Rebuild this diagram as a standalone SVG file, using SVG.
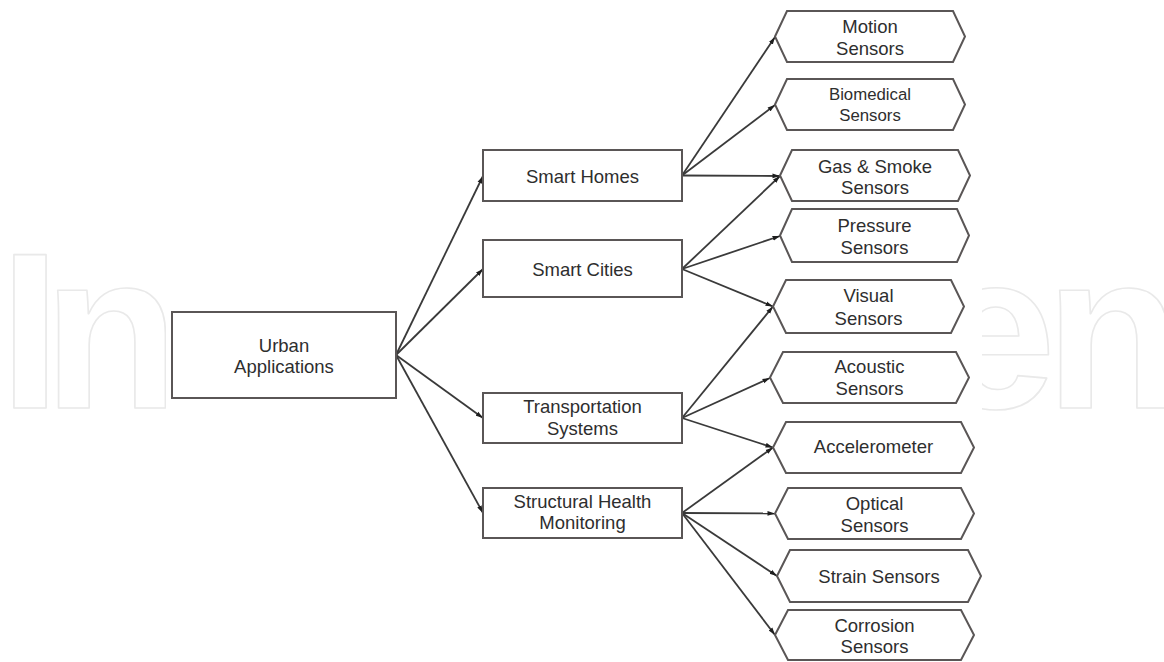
<svg xmlns="http://www.w3.org/2000/svg" width="1164" height="662" viewBox="0 0 1164 662">
  <style>
    .wm { font-family: "Liberation Sans", Arial, sans-serif; font-weight: bold; font-size: 223px; fill: #ffffff; stroke: #e9e9e9; stroke-width: 1.6; stroke-linejoin: round; }
    .box { fill: #ffffff; stroke: #5a5656; stroke-width: 2; }
    .lbl { font-family: "Liberation Sans", Arial, sans-serif; font-size: 18.5px; fill: #2e2e2e; text-anchor: middle; }
    .small { font-size: 16.8px; }
    .conn { fill: none; stroke: #3a3a3a; stroke-width: 1.8; }
  </style>
  <defs>
    <marker id="arrow" markerUnits="userSpaceOnUse" markerWidth="8" markerHeight="6" refX="7.5" refY="3" orient="auto">
      <path d="M0,0.6 L7.5,3 L0,5.4 Z" fill="#1e1e1e"/>
    </marker>
  </defs>

  <rect x="0" y="0" width="1164" height="662" fill="#ffffff"/>

  <!-- faint publisher mark behind the chart -->
  <g id="watermark">
    <text class="wm" x="-1 43" y="408">In</text>
    <text class="wm" x="932 1045" y="408">en</text>
    <rect x="166" y="0" width="816" height="662" fill="#ffffff"/>
  </g>

  <!-- connectors -->
  <g id="connectors" class="conn" marker-end="url(#arrow)">
    <!-- Urban Applications to application areas -->
    <line x1="396" y1="355" x2="483" y2="176"/>
    <line x1="396" y1="355" x2="483" y2="269"/>
    <line x1="396" y1="355" x2="483" y2="418"/>
    <line x1="396" y1="355" x2="483" y2="513"/>
    <!-- Smart Homes -->
    <line x1="682" y1="175.5" x2="775" y2="37"/>
    <line x1="682" y1="175.5" x2="775" y2="105"/>
    <line x1="682" y1="175.5" x2="780" y2="176"/>
    <!-- Smart Cities -->
    <line x1="682" y1="269" x2="780" y2="176"/>
    <line x1="682" y1="269" x2="780" y2="236"/>
    <line x1="682" y1="269" x2="773" y2="306.5"/>
    <!-- Transportation Systems -->
    <line x1="682" y1="418" x2="773" y2="306.5"/>
    <line x1="682" y1="418" x2="770" y2="378"/>
    <line x1="682" y1="418" x2="773" y2="447.5"/>
    <!-- Structural Health Monitoring -->
    <line x1="682" y1="513" x2="773" y2="447.5"/>
    <line x1="682" y1="513" x2="775" y2="513.5"/>
    <line x1="682" y1="513" x2="777" y2="576"/>
    <line x1="682" y1="513" x2="775" y2="635"/>
  </g>

  <!-- root -->
  <g id="urban-applications">
    <rect class="box" x="172" y="312" width="224" height="86"/>
    <text class="lbl" x="284" y="352">Urban</text>
    <text class="lbl" x="284" y="373">Applications</text>
  </g>

  <!-- application areas -->
  <g id="smart-homes">
    <rect class="box" x="483" y="150" width="199" height="51"/>
    <text class="lbl" x="582.5" y="183">Smart Homes</text>
  </g>
  <g id="smart-cities">
    <rect class="box" x="483" y="240" width="199" height="57"/>
    <text class="lbl" x="582.5" y="276">Smart Cities</text>
  </g>
  <g id="transportation-systems">
    <rect class="box" x="483" y="393" width="199" height="50"/>
    <text class="lbl" x="582.5" y="413">Transportation</text>
    <text class="lbl" x="582.5" y="435">Systems</text>
  </g>
  <g id="structural-health-monitoring">
    <rect class="box" x="483" y="488" width="199" height="50"/>
    <text class="lbl" x="582.5" y="508">Structural Health</text>
    <text class="lbl" x="582.5" y="529">Monitoring</text>
  </g>

  <!-- sensor types -->
  <g id="motion-sensors">
    <polygon class="box" points="775,36.5 787,11 953,11 965,36.5 953,62 787,62"/>
    <text class="lbl" x="870" y="33">Motion</text>
    <text class="lbl" x="870" y="55">Sensors</text>
  </g>
  <g id="biomedical-sensors">
    <polygon class="box" points="775,104.5 787,79 953,79 965,104.5 953,130 787,130"/>
    <text class="lbl small" x="870" y="100">Biomedical</text>
    <text class="lbl small" x="870" y="121">Sensors</text>
  </g>
  <g id="gas-smoke-sensors">
    <polygon class="box" points="780,175.5 792,150 958,150 970,175.5 958,201 792,201"/>
    <text class="lbl" x="875" y="173">Gas &amp; Smoke</text>
    <text class="lbl" x="875" y="194">Sensors</text>
  </g>
  <g id="pressure-sensors">
    <polygon class="box" points="780,235.5 792,209 957,209 969,235.5 957,262 792,262"/>
    <text class="lbl" x="874.5" y="232">Pressure</text>
    <text class="lbl" x="874.5" y="254">Sensors</text>
  </g>
  <g id="visual-sensors">
    <polygon class="box" points="773,306.5 786,280 951,280 964,306.5 951,333 786,333"/>
    <text class="lbl" x="868.5" y="302">Visual</text>
    <text class="lbl" x="868.5" y="325">Sensors</text>
  </g>
  <g id="acoustic-sensors">
    <polygon class="box" points="770,377.5 783,352 956,352 969,377.5 956,403 783,403"/>
    <text class="lbl" x="869.5" y="373">Acoustic</text>
    <text class="lbl" x="869.5" y="395">Sensors</text>
  </g>
  <g id="accelerometer">
    <polygon class="box" points="773,447.5 786,422 961,422 974,447.5 961,473 786,473"/>
    <text class="lbl" x="873.5" y="453">Accelerometer</text>
  </g>
  <g id="optical-sensors">
    <polygon class="box" points="775,513.5 788,488 961,488 974,513.5 961,539 788,539"/>
    <text class="lbl" x="874.5" y="510">Optical</text>
    <text class="lbl" x="874.5" y="532">Sensors</text>
  </g>
  <g id="strain-sensors">
    <polygon class="box" points="777,576 790,550 968,550 981,576 968,602 790,602"/>
    <text class="lbl" x="879" y="583">Strain Sensors</text>
  </g>
  <g id="corrosion-sensors">
    <polygon class="box" points="775,635 788,610 961,610 974,635 961,660 788,660"/>
    <text class="lbl" x="874.5" y="632">Corrosion</text>
    <text class="lbl" x="874.5" y="653">Sensors</text>
  </g>
</svg>
